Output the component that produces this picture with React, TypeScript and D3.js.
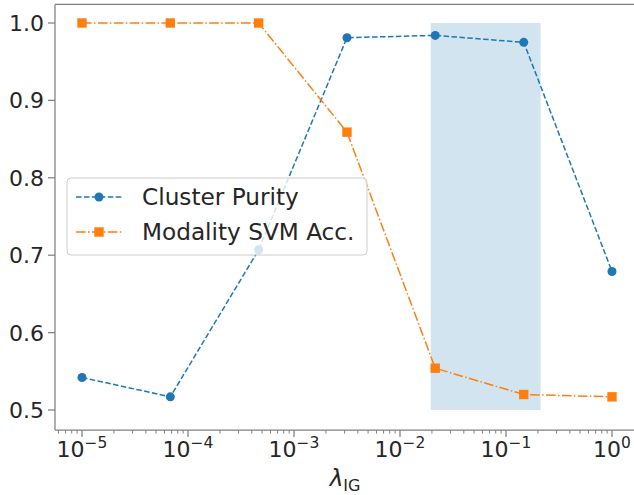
import React from "react";
import * as d3 from "d3";

// lambda_IG sweep (log spaced) and the two measured series
const lambdas = [1e-5, 6.81e-5, 4.64e-4, 3.16e-3, 2.15e-2, 1.47e-1, 1];
const clusterPurity = [0.542, 0.517, 0.707, 0.981, 0.984, 0.975, 0.679];
const modalityAcc = [1.0, 1.0, 1.0, 0.859, 0.554, 0.52, 0.517];
const yTicks = [0.5, 0.6, 0.7, 0.8, 0.9, 1.0];
const xTicks = [-5, -4, -3, -2, -1, 0];
const spanX = [0.0195, 0.212];
const spanY = [0.5, 1.0];

const W = 634;
const H = 495;

export default function App() {
  const x = d3.scaleLog().domain([1e-5, 1]).range([82, 612]);
  const y = d3.scaleLinear().domain([0.5, 1.0]).range([410, 23]);

  const left = 55;
  const right = 637;
  const top = y(1.024);
  const bottom = y(0.474);

  const line = d3
    .line<[number, number]>()
    .x((d) => x(d[0]))
    .y((d) => y(d[1]));

  const blueData = lambdas.map((l, i) => [l, clusterPurity[i]] as [number, number]);
  const orangeData = lambdas.map((l, i) => [l, modalityAcc[i]] as [number, number]);

  // minor ticks over the visible range
  const minor: number[] = [];
  for (let e = -6; e <= 0; e++) {
    for (let m = 2; m <= 9; m++) {
      const v = m * Math.pow(10, e);
      const px = x(v);
      if (px >= left && px <= right) minor.push(px);
    }
  }

  const spine = "#808080";
  const textCol = "#262626";
  const font = "DejaVu Sans";
  const blue = "#1f77b4";
  const orange = "#ff7f0e";

  return (
    <svg
      width={W}
      height={H}
      style={{ position: "absolute", left: 0, top: 0, background: "#fff" }}
      fontFamily={font}
    >
      <defs>
        <clipPath id="plot">
          <rect x={left} y={top} width={right - left} height={bottom - top} />
        </clipPath>
      </defs>

      <rect
        x={x(spanX[0])}
        y={y(spanY[1])}
        width={x(spanX[1]) - x(spanX[0])}
        height={y(spanY[0]) - y(spanY[1])}
        fill={blue}
        fillOpacity={0.2}
      />

      <g clipPath="url(#plot)">
        <path d={line(blueData) || ""} fill="none" stroke={blue} strokeWidth={1.5} strokeDasharray="5.55,2.4" />
        {blueData.map((d, i) => (
          <circle key={i} cx={x(d[0])} cy={y(d[1])} r={4.5} fill={blue} />
        ))}
        <path
          d={line(orangeData) || ""}
          fill="none"
          stroke={orange}
          strokeWidth={1.5}
          strokeDasharray="9.6,2.4,1.5,2.4"
        />
        {orangeData.map((d, i) => (
          <rect key={i} x={x(d[0]) - 4.7} y={y(d[1]) - 4.7} width={9.4} height={9.4} fill={orange} />
        ))}
      </g>

      {/* spines */}
      <line x1={left} x2={right} y1={top} y2={top} stroke={spine} strokeWidth={1.25} />
      <line x1={left} x2={right} y1={bottom} y2={bottom} stroke={spine} strokeWidth={1.25} />
      <line x1={left} x2={left} y1={top} y2={bottom} stroke={spine} strokeWidth={1.25} />

      {/* y axis */}
      {yTicks.map((t) => (
        <g key={t}>
          <line x1={left - 7} x2={left} y1={y(t)} y2={y(t)} stroke={spine} strokeWidth={1.25} />
          <text x={left - 11} y={y(t)} dy="0.36em" textAnchor="end" fontSize={22} fill={textCol}>
            {t.toFixed(1)}
          </text>
        </g>
      ))}

      {/* x axis */}
      {minor.map((px, i) => (
        <line key={i} x1={px} x2={px} y1={bottom} y2={bottom + 3.5} stroke={spine} strokeWidth={1} />
      ))}
      {xTicks.map((e) => {
        const px = x(Math.pow(10, e));
        return (
          <g key={e}>
            <line x1={px} x2={px} y1={bottom} y2={bottom + 7} stroke={spine} strokeWidth={1.25} />
            <text x={px} y={457} textAnchor="middle" fontSize={22} fill={textCol}>
              10
              <tspan dy={-9} fontSize={15.5}>
                {e < 0 ? "\u2212" + Math.abs(e) : String(e)}
              </tspan>
            </text>
          </g>
        );
      })}

      <text x={345} y={486} textAnchor="middle" fontSize={23} fill={textCol}>
        <tspan fontStyle="italic">λ</tspan>
        <tspan fontSize={16} dy={5}>
          IG
        </tspan>
      </text>

      {/* legend */}
      <g>
        <rect x={67} y={178} width={300} height={77} rx={4} fill="#fff" fillOpacity={0.8} stroke="#cccccc" strokeWidth={1} />
        <line x1={76} x2={122} y1={197} y2={197} stroke={blue} strokeWidth={1.5} strokeDasharray="5.55,2.4" />
        <circle cx={99} cy={197} r={4.5} fill={blue} />
        <text x={142} y={197} dy="0.36em" fontSize={23.2} fill={textCol}>
          Cluster Purity
        </text>
        <line x1={76} x2={122} y1={232} y2={232} stroke={orange} strokeWidth={1.5} strokeDasharray="9.6,2.4,1.5,2.4" />
        <rect x={99 - 4.7} y={232 - 4.7} width={9.4} height={9.4} fill={orange} />
        <text x={142} y={232} dy="0.36em" fontSize={23.2} fill={textCol}>
          Modality SVM Acc.
        </text>
      </g>
    </svg>
  );
}
